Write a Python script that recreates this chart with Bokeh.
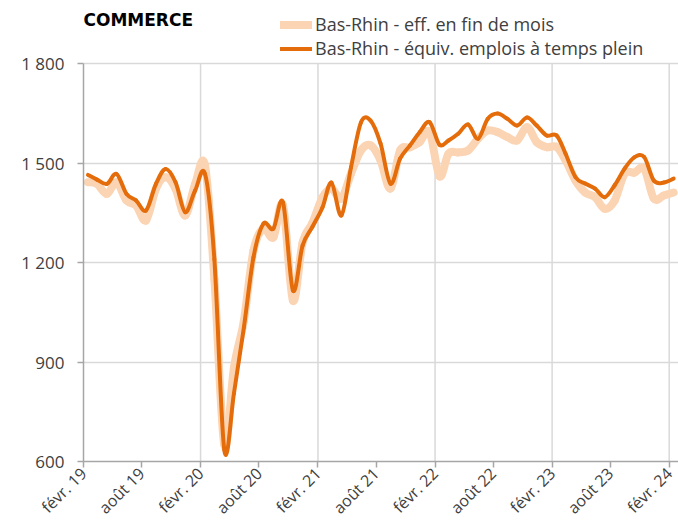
import numpy as np
import pandas as pd
from bokeh.plotting import figure
from bokeh.models import FixedTicker, Legend, LegendItem, Label, Range1d
from bokeh.embed import file_html
from bokeh.resources import INLINE

# ---- data ----
months = pd.date_range("2019-02-01", periods=61, freq="MS")
eff_fin_mois = [1442, 1437, 1407, 1442, 1387, 1372, 1327, 1423, 1457, 1422,
                1342, 1437, 1492, 1150, 650, 883, 1025, 1236, 1303, 1276,
                1372, 1085, 1260, 1320, 1396, 1423, 1393, 1468, 1538, 1553,
                1508, 1423, 1538, 1547, 1563, 1593, 1460, 1528, 1532, 1538,
                1573, 1598, 1593, 1578, 1568, 1608, 1563, 1548, 1548, 1508,
                1447, 1411, 1397, 1362, 1387, 1468, 1471, 1483, 1393, 1402,
                1411]
etp = [1464, 1450, 1437, 1467, 1407, 1387, 1357, 1437, 1482, 1442,
       1352, 1417, 1467, 1210, 635, 805, 1004, 1216, 1317, 1302,
       1381, 1116, 1251, 1308, 1366, 1441, 1342, 1487, 1622, 1628,
       1559, 1438, 1513, 1553, 1593, 1623, 1555, 1568, 1589, 1616,
       1573, 1633, 1649, 1633, 1613, 1637, 1613, 1583, 1583, 1528,
       1457, 1438, 1423, 1397, 1433, 1483, 1517, 1518, 1447, 1441,
       1453]
x_tick_months = pd.date_range("2019-02-01", "2024-02-01", freq="6MS")
x_tick_labels = ["févr. 19", "août 19", "févr. 20", "août 20", "févr. 21", "août 21",
                 "févr. 22", "août 22", "févr. 23", "août 23", "févr. 24"]
y_ticks = [600, 900, 1200, 1500, 1800]
y_tick_labels = ["600", "900", "1 200", "1 500", "1 800"]
series_labels = ["Bas-Rhin - eff. en fin de mois", "Bas-Rhin - équiv. emplois à temps plein"]
chart_title = "COMMERCE"

LIGHT = "#FBD4B4"
DARK = "#E46C0A"
FONT = "Open Sans"
GRID = "#D9D9D9"
AXIS = "#A6A6A6"

DAY = 86400000
Y_MIN, Y_MAX = y_ticks[0], y_ticks[-1]
Y_TOP = 1990      # headroom above the value axis for the title and legend


def to_ms(idx):
    return [int(v) for v in idx.values.astype("datetime64[ms]").astype("int64")]


xs = [v + 14 * DAY for v in to_ms(months)]
tick_ms = to_ms(x_tick_months)
x_start = to_ms(pd.DatetimeIndex(["2019-02-01"]))[0]
x_end = to_ms(pd.DatetimeIndex(["2024-03-01"]))[0]


def bezier_parts(x, y):
    n = len(x)
    out = dict(x0=[], y0=[], x1=[], y1=[], cx0=[], cy0=[], cx1=[], cy1=[])
    for i in range(n - 1):
        ip = max(i - 1, 0)
        inx = min(i + 2, n - 1)
        out["x0"].append(x[i]); out["y0"].append(y[i])
        out["x1"].append(x[i + 1]); out["y1"].append(y[i + 1])
        out["cx0"].append(x[i] + (x[i + 1] - x[ip]) / 6)
        out["cy0"].append(y[i] + (y[i + 1] - y[ip]) / 6)
        out["cx1"].append(x[i + 1] - (x[inx] - x[i]) / 6)
        out["cy1"].append(y[i + 1] - (y[inx] - y[i]) / 6)
    return out


p = figure(width=678, height=528, output_backend="svg", toolbar_location=None,
           x_range=Range1d(x_start, x_end), y_range=Range1d(Y_MIN, Y_TOP),
           min_border_left=83, min_border_right=0, min_border_top=0, min_border_bottom=67)
p.outline_line_color = None
p.background_fill_color = "white"

# grids
p.xgrid.visible = False
p.ygrid.ticker = FixedTicker(ticks=y_ticks)
p.ygrid.grid_line_color = GRID
p.ygrid.grid_line_width = 1.5
feb_ticks = tick_ms[2::2]
p.segment(x0=feb_ticks, y0=[Y_MIN] * len(feb_ticks), x1=feb_ticks, y1=[Y_MAX] * len(feb_ticks),
          line_color=GRID, line_width=1.5)

# axes
xa = p.xaxis[0]
xa.ticker = FixedTicker(ticks=tick_ms)
xa.major_label_overrides = {t: l for t, l in zip(tick_ms, x_tick_labels)}
xa.major_label_orientation = np.pi / 4
ya = p.yaxis[0]
ya.ticker = FixedTicker(ticks=y_ticks)
ya.bounds = (Y_MIN, Y_MAX)
ya.major_label_overrides = {t: l for t, l in zip(y_ticks, y_tick_labels)}
for ax in (xa, ya):
    ax.axis_line_color = AXIS
    ax.axis_line_width = 1.5
    ax.major_tick_line_color = AXIS
    ax.major_tick_line_width = 1.5
    ax.major_tick_in = 0
    ax.major_tick_out = 6
    ax.minor_tick_line_color = None
    ax.major_label_text_font = FONT
    ax.major_label_text_color = "#404040"
xa.major_label_text_font_size = "16px"
xa.major_label_standoff = 3
ya.major_label_text_font_size = "17px"
ya.major_label_standoff = 13

# series
p.bezier(**bezier_parts(xs, eff_fin_mois), line_color=LIGHT, line_width=8, line_cap="round")
p.bezier(**bezier_parts(xs, etp), line_color=DARK, line_width=4, line_cap="round")

r_light = p.line(x=[x_start, x_start], y=[np.nan, np.nan], line_color=LIGHT, line_width=8, line_cap="round")
r_dark = p.line(x=[x_start, x_start], y=[np.nan, np.nan], line_color=DARK, line_width=4, line_cap="round")

legend = Legend(items=[LegendItem(label=series_labels[0], renderers=[r_light]),
                       LegendItem(label=series_labels[1], renderers=[r_dark])],
                location=(197, 401), orientation="vertical", padding=0, margin=0, spacing=0,
                label_height=21, glyph_height=21, glyph_width=32, label_standoff=3,
                background_fill_alpha=0, border_line_color=None,
                label_text_font=FONT, label_text_font_size="18px", label_text_color="#404040")
p.add_layout(legend)

title = Label(x=x_start, y=1930, text=chart_title, text_font="DejaVu Sans", text_font_style="bold",
              text_font_size="17px", text_color="#000000", text_baseline="middle")
p.add_layout(title)

open("out.html", "w").write(file_html(p, INLINE))
